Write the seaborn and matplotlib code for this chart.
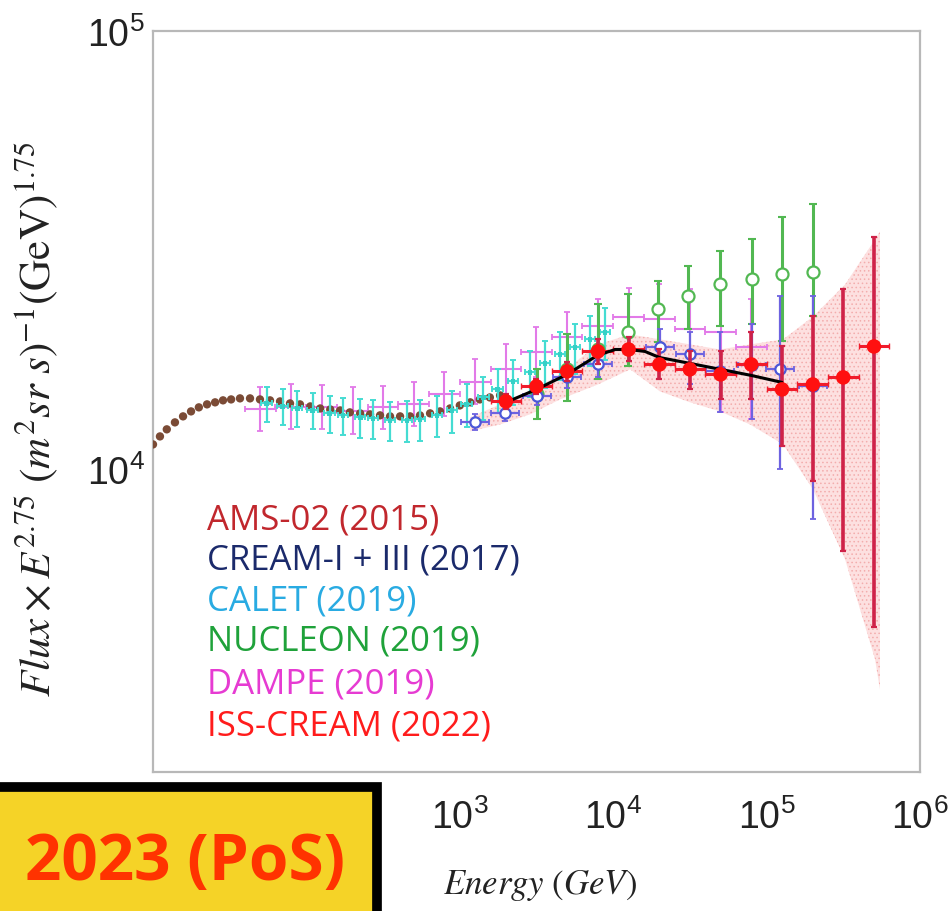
import numpy as np
import matplotlib
matplotlib.use("Agg")
import matplotlib.pyplot as plt
import seaborn as sns
from matplotlib.patches import Rectangle
from matplotlib.ticker import LogLocator, NullFormatter, FuncFormatter

# ---------------- data ----------------
ams_E = [10.0, 11.1, 12.3, 13.9, 15.7, 17.7, 19.9, 22.5, 25.4, 28.6, 32.3, 36.9, 42.9, 49.8,
         57.9, 67.3, 78.2, 90.8, 106, 123, 143, 166, 192, 224, 260, 302, 351, 408, 474, 550,
         640, 743, 864, 1000, 1170, 1350, 1570, 1830]
ams_F = [11400, 11890, 12340, 12800, 13210, 13560, 13850, 14070, 14220, 14370, 14440, 14520,
         14520, 14440, 14370, 14290, 14140, 14070, 13920, 13770, 13700, 13630, 13490, 13420,
         13350, 13280, 13210, 13210, 13210, 13280, 13420, 13560, 13770, 13990, 14220, 14440,
         14590, 14750]

calet_E = [55, 70, 87, 110, 142, 173, 224, 272, 351, 453, 550, 710, 890, 1110, 1420, 1770,
           2220, 2870, 3590, 4500, 5640, 7060, 8840]
calet_F = [14140, 13920, 13770, 13630, 13420, 13280, 13140, 13070, 12930, 12930, 13000, 13280,
           13630, 14070, 14590, 15220, 15870, 16640, 17450, 18290, 18970, 19790, 20530]
calet_err = [1300, 1300, 1300, 1300, 1300, 1300, 1350, 1350, 1350, 1400, 1400, 1450, 1500,
             1550, 1650, 1750, 1850, 2000, 2150, 2300, 2450, 2600, 2800]

dampe_E = [50, 79, 126, 200, 316, 500, 794, 1260, 2000, 3160, 5010, 7940, 12600, 20000,
           31600, 50100, 79400]
dampe_F = [13700, 13850, 13850, 13560, 13850, 14070, 14830, 15790, 16910, 18480, 20000,
           21190, 22210, 21980, 20860, 20530, 18970]
dampe_lo = [12210, 12340, 12340, 12020, 12340, 12530, 13210, 14070, 14830, 16210, 17350,
            18290, 18770, 19280, 17820, 13490, 13000]
dampe_hi = [15380, 15620, 15550, 15380, 15460, 15790, 16640, 17820, 19280, 21080, 22800,
            24410, 25870, 26420, 25730, 25730, 24410]

nuc_E = [3190, 5000, 7960, 12500, 19600, 30700, 49700, 80300, 126000, 201000]
nuc_F = [14830, 16910, 18770, 20530, 23170, 24800, 26420, 27120, 27850, 28150]
nuc_lo = [13000, 14290, 16040, 17180, 19480, 20860, 21190, 21410, 19580, 22330]
nuc_hi = [16910, 20320, 23780, 25070, 26840, 29040, 31420, 33450, 37560, 40210]

cream_E = [1260, 1970, 3190, 5000, 7960, 20200, 31700, 49700, 80300, 122000, 201000]
cream_F = [12800, 13420, 14670, 16210, 17350, 18970, 18290, 16730, 17270, 16910, 15460]
cream_lo = [12270, 12870, 13990, 15300, 16210, 17080, 15620, 13490, 13000, 10000, 7690]
cream_hi = [13350, 13990, 15380, 17080, 18580, 20860, 20530, 20530, 21410, 24800, 24800]

iss_E = [2000, 3160, 5010, 7940, 12600, 20000, 31600, 50100, 79400, 126000, 200000, 316000,
         501000]
iss_F = [14290, 15460, 16730, 18580, 18770, 17350, 16910, 16470, 17350, 15220, 15620, 16210,
         19070]
iss_lo = [13700, 14830, 15870, 17350, 17630, 16040, 15220, 14440, 14440, 11280, 9390, 6500,
          4360]
iss_hi = [14830, 16040, 17540, 19790, 20000, 18770, 18580, 18580, 20530, 19070, 22330, 25730,
          33810]

fit_E = [2000, 3160, 5000, 7900, 10300, 12600, 16100, 20000, 31600, 50000, 79400, 126000]
fit_F = [14220, 15220, 16470, 18200, 18770, 18770, 18580, 18000, 17450, 16910, 16380, 15790]

band_E = [1170, 1830, 2870, 4500, 7960, 12900, 20200, 31700, 49700, 78000, 128000, 201000,
          325000, 509000, 548000]
band_lo = [12210, 12660, 13350, 14440, 15620, 16910, 15060, 14220, 13560, 12660, 11400, 9000,
           6230, 3690, 3150]
band_hi = [13140, 14070, 15060, 16470, 19280, 20320, 19790, 19280, 18770, 19280, 19790, 22330,
           26420, 33450, 34890]

legend_labels = ["AMS-02 (2015)", "CREAM-I + III (2017)", "CALET (2019)", "NUCLEON (2019)",
                 "DAMPE (2019)", "ISS-CREAM (2022)"]
legend_colors = ["#C1272D", "#1B2A6B", "#29ABE2", "#1FA23A", "#E63BD2", "#FF1C1C"]
x_label = r"$Energy\ (GeV)$"
y_label = r"$Flux \times E^{2.75}\ (m^{2}sr\ s)^{-1}(\mathrm{GeV})^{1.75}$"
stamp_text = "2023 (PoS)"
hidden_x_labels = [10, 100]

# ---------------- style ----------------
sns.set_theme(style="white")
plt.rcParams["font.family"] = ["Liberation Sans", "DejaVu Sans"]
plt.rcParams["mathtext.fontset"] = "custom"
plt.rcParams["mathtext.rm"] = "Liberation Sans"
plt.rcParams["mathtext.it"] = "Liberation Sans:italic"
plt.rcParams["mathtext.bf"] = "Liberation Sans:bold"
plt.rcParams["hatch.linewidth"] = 0.6

fig = plt.figure(figsize=(9.52, 9.12), dpi=100)
ax = fig.add_axes([153 / 952, 1 - 773 / 912, 767 / 952, 741 / 912])
ax.set_xscale("log")
ax.set_yscale("log")


def asym(v, lo, hi):
    v = np.asarray(v, float)
    return [v - np.asarray(lo, float), np.asarray(hi, float) - v]


def xbin(E, half_dex):
    E = np.asarray(E, float)
    return [E * (1 - 10 ** (-half_dex)), E * (10 ** half_dex - 1)]


# band
ax.fill_between(band_E, band_lo, band_hi, facecolor="#fde0e0", edgecolor="#f3adad",
                hatch="....", linewidth=0, zorder=1)

# AMS-02
sns.scatterplot(x=ams_E, y=ams_F, ax=ax, color="#7b4b36", s=36, edgecolor="none",
                marker="o", zorder=3, legend=False)

# CALET
ax.errorbar(calet_E, calet_F, yerr=calet_err, xerr=xbin(calet_E, 0.035), fmt="none",
            ecolor="#45dcd2", elinewidth=1.6, capsize=2, capthick=1.4, zorder=3)
sns.scatterplot(x=calet_E, y=calet_F, ax=ax, color="#35d0c6", s=12, marker="s",
                edgecolor="none", zorder=3, legend=False)

# DAMPE
ax.errorbar(dampe_E, dampe_F, yerr=asym(dampe_F, dampe_lo, dampe_hi),
            xerr=xbin(dampe_E, 0.1), fmt="none", ecolor="#e27ae8", elinewidth=1.5,
            capsize=2.5, capthick=1.3, zorder=2.5)

# NUCLEON
ax.errorbar(nuc_E, nuc_F, yerr=asym(nuc_F, nuc_lo, nuc_hi), fmt="none",
            ecolor="#52b852", elinewidth=2.2, capsize=3, capthick=1.5, zorder=4)
sns.scatterplot(x=nuc_E, y=nuc_F, ax=ax, color="white", edgecolor="#52b852", linewidth=1.6,
                s=75, marker="o", zorder=4.1, legend=False)

# CREAM-I + III
ax.errorbar(cream_E, cream_F, yerr=asym(cream_F, cream_lo, cream_hi),
            xerr=xbin(cream_E, 0.09), fmt="none", ecolor="#6d62e0", elinewidth=1.6,
            capsize=2, capthick=1.3, zorder=4.5)
sns.scatterplot(x=cream_E, y=cream_F, ax=ax, color="white", edgecolor="#4c58d8",
                linewidth=1.6, s=55, marker="o", zorder=4.6, legend=False)

# ISS-CREAM
ax.errorbar(iss_E, iss_F, yerr=asym(iss_F, iss_lo, iss_hi), fmt="none",
            ecolor="#cf2248", elinewidth=2.6, capsize=2.5, capthick=1.6, zorder=5)
ax.errorbar(iss_E, iss_F, xerr=xbin(iss_E, 0.1), fmt="none", ecolor="#f01c2c",
            elinewidth=2.2, capsize=2, zorder=5.1)
sns.lineplot(x=fit_E, y=fit_F, ax=ax, color="black", linewidth=2.2, estimator=None,
             sort=False, zorder=6, legend=False)
sns.scatterplot(x=iss_E, y=iss_F, ax=ax, color="#ff1010", edgecolor="none", s=110,
                marker="o", zorder=7, legend=False)

# axes
ax.set_xlim(10, 1e6)
ax.set_ylim(2040, 1e5)


def decade_fmt(v, pos):
    if any(abs(v - h) < 1e-6 * h for h in hidden_x_labels):
        return ""
    return r"$10^{%d}$" % int(round(np.log10(v)))


for a in (ax.xaxis, ax.yaxis):
    a.set_major_locator(LogLocator(base=10, numticks=12))
    a.set_minor_locator(LogLocator(base=10, subs=np.arange(2, 10), numticks=40))
    a.set_minor_formatter(NullFormatter())
    a.set_major_formatter(FuncFormatter(decade_fmt))

ax.tick_params(which="both", direction="in", color="#9a9a9a", width=1.3,
               top=False, right=False, labelsize=27, labelcolor="#222222")
ax.tick_params(axis="x", which="major", length=14, pad=19)
ax.tick_params(axis="x", which="minor", length=6)
ax.tick_params(axis="y", which="major", length=18, pad=6)
ax.tick_params(axis="y", which="minor", length=9)
for s in ax.spines.values():
    s.set_color("#b8b8b8")
    s.set_linewidth(1.6)

ax.set_xlabel(x_label, fontsize=25, math_fontfamily="stix", color="#222222")
ax.set_ylabel(y_label, fontsize=31, math_fontfamily="stix", color="#222222")
ax.xaxis.set_label_coords(0.505, -0.128)
ax.yaxis.set_label_coords(-0.12, 0.478)

legend_y = [0.3414, 0.2874, 0.2308, 0.1768, 0.1188, 0.0621]
for lab, col, yy in zip(legend_labels, legend_colors, legend_y):
    ax.text(0.0704, yy, lab, transform=ax.transAxes, color=col, fontsize=25,
            family=["Open Sans", "DejaVu Sans"], va="center", ha="left", zorder=8)

# yellow stamp box
fig.add_artist(Rectangle((-20 / 952, -0.05), (377 + 20) / 952, 0.05 + (1 - 788 / 912),
                         transform=fig.transFigure, facecolor="#F5D327", edgecolor="black",
                         linewidth=7, zorder=10))
fig.text(345 / 952, 1 - 880 / 912, stamp_text, ha="right", va="baseline", fontsize=46,
         fontweight="bold", color="#FF3300", family=["Open Sans", "DejaVu Sans"], zorder=11)

fig.savefig("out.png", dpi=100)
